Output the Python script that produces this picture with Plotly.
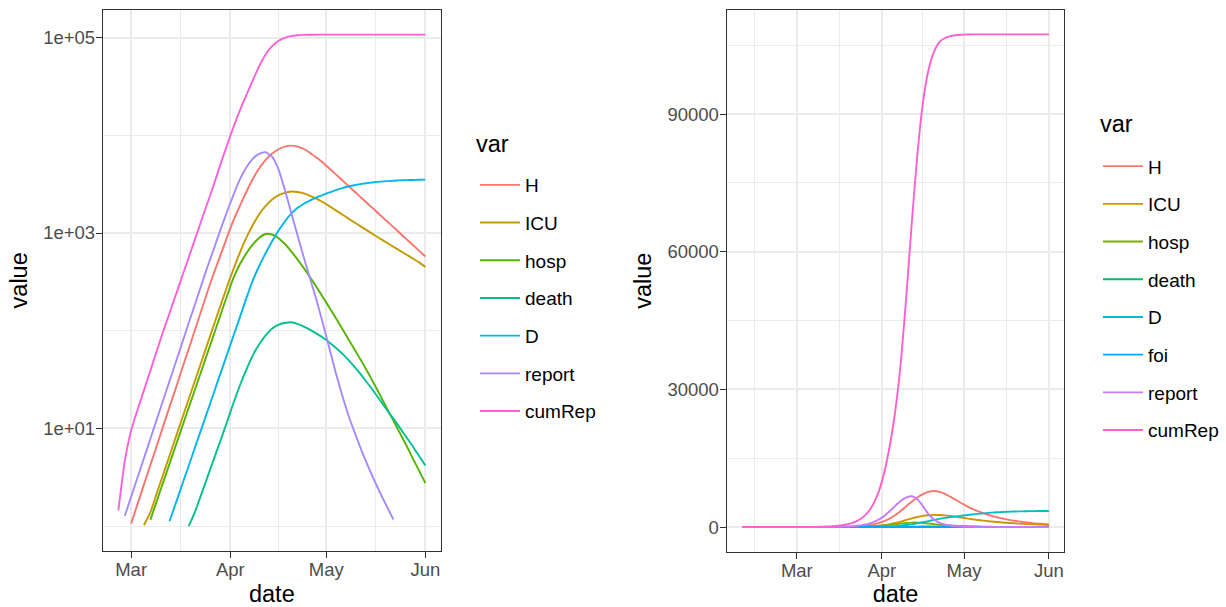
import numpy as np
import pandas as pd
import plotly.graph_objects as go

# ---- data (model output, every 2 days, 2020-02-10 .. 2020-06-01) ----
dates = pd.date_range("2020-02-10", "2020-06-01", freq="2D")

H = [0, 0, 0, 0, 0, 0, 0, 0.3, 0.5, 0.75,
     1.06, 1.68, 2.66, 4.2, 6.6, 10.5, 16.6, 26, 41.5, 65, 103, 163, 258, 400, 600, 910,
     1350, 1900, 2630, 3550, 4570, 5560, 6460, 7160, 7670, 7850, 7670, 7240, 6600, 5890,
     5250, 4570, 3980, 3470, 3020, 2630, 2290, 1995, 1740, 1510, 1320, 1150, 1000, 871,
     759, 661, 575]
ICU = [0, 0, 0, 0, 0, 0, 0, 0, 0.3, 0.5,
       0.6, 0.8, 1.02, 1.38, 2.16, 3.37, 5.25, 8.2, 12.8, 19.9, 31, 48.4, 75.5, 118, 183,
       283, 427, 631, 891, 1202, 1549, 1884, 2190, 2430, 2570, 2660, 2630, 2540, 2400,
       2240, 2065, 1884, 1706, 1549, 1403, 1274, 1156, 1052, 955, 871, 794, 724, 661, 603,
       550, 501, 450]
hosp = [0, 0, 0, 0, 0, 0, 0, 0, 0, 0.3,
        0.4, 0.6, 0.8, 1.16, 1.80, 2.80, 4.35, 6.75, 10.5, 16.3, 25.2, 39.2, 60.8, 94.4,
        147, 228, 347, 479, 617, 759, 891, 977, 966, 891, 776, 653, 537, 437, 351, 279,
        219, 172, 135, 105, 81.3, 63.1, 49, 37.6, 28.5, 21.4, 16.0, 12.0, 9.0, 6.76, 5.0,
        3.72, 2.75]
death = [0, 0, 0, 0, 0, 0, 0, 0, 0, 0, 0, 0, 0, 0, 0, 0, 0.3, 0.45, 0.7,
         1.0, 1.41, 2.14, 3.27, 5.0, 7.6, 11.7, 18.2, 27.5, 39.8, 55.6, 72.4, 89, 105, 115,
         120, 122, 117.5, 110.4, 101.9, 93.3, 84.7, 75.9, 67, 58.3, 50.1, 42.2, 35.1, 28.8,
         23.6, 19.1, 15.5, 12.6, 10.2, 8.2, 6.6, 5.25, 4.17]
D = [0, 0, 0, 0, 0, 0, 0, 0, 0, 0, 0, 0, 0, 0.4, 0.55, 0.8,
     1.12, 1.73, 2.68, 4.15, 6.43, 9.95, 15.4, 23.9, 37, 57.3, 88.7, 137, 214, 324, 457,
     617, 813, 1047, 1303, 1567, 1800, 1995, 2160, 2320, 2455, 2600, 2750, 2880, 2990,
     3100, 3180, 3250, 3310, 3360, 3400, 3430, 3455, 3475, 3490, 3505, 3515]
foi = [0.01, 0.01, 0.01, 0.01, 0.02, 0.02, 0.02, 0.03, 0.03, 0.04,
       0.05, 0.05, 0.06, 0.07, 0.08, 0.09, 0.1, 0.11, 0.12, 0.13, 0.14, 0.15, 0.16, 0.17,
       0.18, 0.19, 0.2, 0.2, 0.19, 0.17, 0.15, 0.12, 0.1, 0.08, 0.06, 0.05, 0.04, 0.03,
       0.03, 0.02, 0.02, 0.02, 0.01, 0.01, 0.01, 0.01, 0.01, 0.01, 0.01, 0.01, 0.01, 0.01,
       0.01, 0.01, 0.01, 0.01, 0.01]
report = [0, 0, 0, 0, 0, 0, 0, 0, 0.8,
          1.27, 2.0, 3.15, 4.95, 7.8, 12.3, 19.4, 30.5, 48, 76, 120, 188, 296, 465, 708,
          1096, 1660, 2455, 3540, 4680, 5750, 6460, 6720, 6080, 4570, 2820, 1640, 955, 562,
          339, 204, 117, 66, 37, 21.9, 13.5, 8.9, 6.0, 4.17, 2.95, 2.14, 1.58, 1.17, 0.8,
          0.55, 0.4, 0.28, 0.2]
cumRep = [0, 0, 0, 0, 0, 0, 0.2, 0.6,
          1.45, 4.6, 9.5, 15.5, 24.5, 39, 62, 98, 151, 234, 363, 562, 871, 1349, 2089, 3236,
          5130, 7943, 12160, 17990, 25700, 36300, 50700, 66830, 81280, 92470, 99500, 103500,
          105700, 106600, 107000, 107200, 107300, 107350,
          107400, 107400, 107400, 107400, 107400, 107400, 107400, 107400, 107400, 107400,
          107400, 107400, 107400, 107400, 107400]

series_names = ["H", "ICU", "hosp", "death", "D", "foi", "report", "cumRep"]
series_vals = [H, ICU, hosp, death, D, foi, report, cumRep]
left_names = ["H", "ICU", "hosp", "death", "D", "report", "cumRep"]
left_colors = ["#F8766D", "#C49A00", "#53B400", "#00C094", "#00B6EB", "#A58AFF", "#FB61D7"]
right_colors = ["#F8766D", "#CD9600", "#7CAE00", "#00BE67", "#00BFC4", "#00A9FF", "#C77CFF", "#FF61CC"]

month_ticks = ["2020-03-01", "2020-04-01", "2020-05-01", "2020-06-01"]
month_labels = ["Mar", "Apr", "May", "Jun"]
log_ticks = [10, 1000, 100000]
log_labels = ["1e+01", "1e+03", "1e+05"]
log_minor = [1, 100, 10000]
lin_ticks = [0, 30000, 60000, 90000]
lin_labels = ["0", "30000", "60000", "90000"]
lin_minor = [15000, 45000, 75000, 105000]
legend_title = "var"

data = {n: np.array(v, dtype=float) for n, v in zip(series_names, series_vals)}

FONT = "Liberation Sans"
GRID = "#EBEBEB"
DARK = "#333333"

fig = go.Figure()

# left panel: log scale, values >= 1
lx_min, lx_max = None, None
ly_vals = []
for name, col in zip(left_names, left_colors):
    v = data[name]
    m = v >= 1
    d = dates[m]
    fig.add_trace(go.Scatter(x=d, y=v[m], mode="lines", name=name,
                             line=dict(color=col, width=1.9, shape="spline", smoothing=0.5),
                             xaxis="x", yaxis="y", legend="legend", legendgroup="L" + name))
    lx_min = d.min() if lx_min is None else min(lx_min, d.min())
    lx_max = d.max() if lx_max is None else max(lx_max, d.max())
    ly_vals.extend(v[m].tolist())

# right panel: linear
for name, col in zip(series_names, right_colors):
    fig.add_trace(go.Scatter(x=dates, y=data[name], mode="lines", name=name,
                             line=dict(color=col, width=1.9, shape="spline", smoothing=0.5),
                             xaxis="x2", yaxis="y2", legend="legend2", legendgroup="R" + name))

def exp_range(a, b, f=0.05):
    s = b - a
    return a - f * s, b + f * s

lx0, lx1 = exp_range(lx_min, lx_max)
rx0, rx1 = exp_range(dates.min(), dates.max())
ly0, ly1 = exp_range(np.log10(min(ly_vals)), np.log10(max(ly_vals)))
allv = np.concatenate([data[n] for n in series_names])
ry0, ry1 = exp_range(allv.min(), allv.max())

def minor_dates(majors, lo):
    m = pd.to_datetime(majors)
    mids = [m[i] + (m[i + 1] - m[i]) / 2 for i in range(len(m) - 1)]
    mids = [m[0] - (m[1] - m[0]) / 2] + mids
    return [x for x in mids if x >= lo]

W, Hh = 1226, 607
def px(x): return x / W
def py(y): return 1 - y / Hh

axis_common = dict(showline=True, mirror=True, linecolor=DARK, linewidth=1.3,
                   ticks="outside", ticklen=6, tickwidth=1.3, tickcolor=DARK,
                   showgrid=True, gridcolor=GRID, gridwidth=1.8, zeroline=False,
                   tickfont=dict(family=FONT, size=18.5, color="#4D4D4D"),
                   automargin=False)
title_font = dict(family=FONT, size=23.5, color="black")

fig.update_layout(
    width=W, height=Hh, margin=dict(l=0, r=0, t=0, b=0),
    paper_bgcolor="white", plot_bgcolor="white",
    font=dict(family=FONT, color="black"),
    xaxis=dict(domain=[px(103), px(440.7)], anchor="y", type="date",
               range=[lx0, lx1], tickmode="array", tickvals=month_ticks, ticktext=month_labels,
               minor=dict(tickmode="array", tickvals=minor_dates(month_ticks, lx0),
                          showgrid=True, gridcolor=GRID, gridwidth=1.0),
               ticklabelstandoff=-4,
               title=dict(text="date", font=title_font, standoff=13),
               **axis_common),
    yaxis=dict(domain=[py(550.7), py(10)], anchor="x", type="log",
               range=[ly0, ly1], tickmode="array", tickvals=log_ticks, ticktext=log_labels,
               minor=dict(tickmode="array", tickvals=log_minor,
                          showgrid=True, gridcolor=GRID, gridwidth=1.0),
               ticklabelstandoff=-3,
               title=dict(text="value", font=title_font, standoff=8),
               **axis_common),
    xaxis2=dict(domain=[px(726.7), px(1064.3)], anchor="y2", type="date",
                range=[rx0, rx1], tickmode="array", tickvals=month_ticks, ticktext=month_labels,
                minor=dict(tickmode="array", tickvals=minor_dates(month_ticks, rx0),
                           showgrid=True, gridcolor=GRID, gridwidth=1.0),
                ticklabelstandoff=-4,
                title=dict(text="date", font=title_font, standoff=13),
                **axis_common),
    yaxis2=dict(domain=[py(551.7), py(9.7)], anchor="x2",
                range=[ry0, ry1], tickmode="array", tickvals=lin_ticks, ticktext=lin_labels,
                minor=dict(tickmode="array", tickvals=lin_minor,
                           showgrid=True, gridcolor=GRID, gridwidth=1.0),
                ticklabelstandoff=-3,
                title=dict(text="value", font=title_font, standoff=9),
                **axis_common),
    legend=dict(x=px(475), y=py(166), xanchor="left", yanchor="top",
                font=dict(size=19, color="black", family=FONT),
                bgcolor="rgba(0,0,0,0)", itemwidth=40, tracegroupgap=10),
    legend2=dict(x=px(1098), y=py(147.3), xanchor="left", yanchor="top",
                 font=dict(size=19, color="black", family=FONT),
                 bgcolor="rgba(0,0,0,0)", itemwidth=40, tracegroupgap=10),
    annotations=[
        dict(text=legend_title, x=px(474), y=py(144), xref="paper", yref="paper",
             xanchor="left", yanchor="middle", showarrow=False, font=title_font),
        dict(text=legend_title, x=px(1098), y=py(124.5), xref="paper", yref="paper",
             xanchor="left", yanchor="middle", showarrow=False, font=title_font),
    ],
)

fig.write_html("out.html", config={"displayModeBar": False},
               post_script="document.body.style.margin='0px';document.body.style.padding='0px';")
